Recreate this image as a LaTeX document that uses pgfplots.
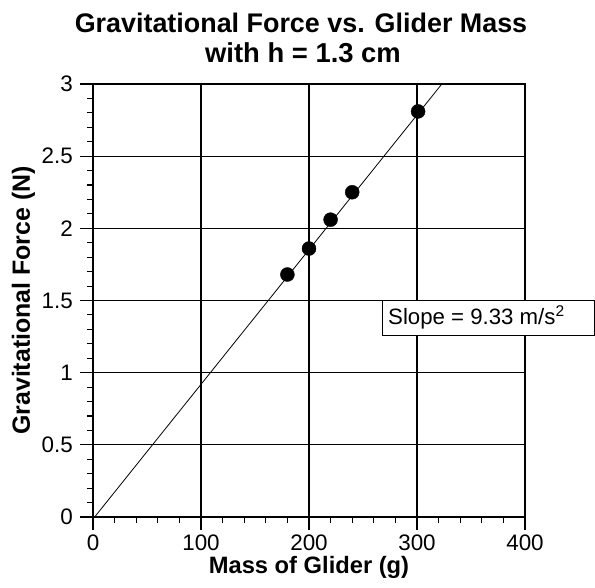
\documentclass[border=0pt]{standalone}
\usepackage{pgfplots}
\pgfplotsset{compat=1.18}
\usepackage{fontspec}
\setmainfont{Liberation Sans}
\begin{document}
\begin{tikzpicture}
\begin{axis}[
  scale only axis,
  width=432bp, height=433bp,
  xmin=0, xmax=400, ymin=0, ymax=3,
  xtick={0,100,200,300,400},
  ytick={0,0.5,1,1.5,2,2.5,3},
  yticklabels={0,0.5,1,1.5,2,2.5,3},
  minor x tick num=4, minor y tick num=4,
  xtick pos=left, ytick pos=left,
  tick align=outside,
  major tick length=13bp, minor tick length=6bp,
  grid=major,
  major grid style={black, line width=1.1bp},
  axis line style={black, line width=1.1bp},
  every tick/.style={black, line width=1.1bp},
  /pgf/number format/assume math mode=true,
  tick label style={font=\fontsize{22.5}{26}\selectfont},
  xticklabel style={inner sep=2bp, yshift=-3bp},
  yticklabel style={inner sep=3bp, xshift=-4bp},
  xlabel={\fontsize{23.8}{28}\selectfont\bfseries Mass of Glider (g)},
  ylabel={\fontsize{25}{28}\selectfont\bfseries Gravitational Force (N)},
  clip=false,
]
\addplot[black, line width=0.8bp] coordinates {(1.5,0) (323,3)};
\addplot[only marks, mark=*, mark size=7bp, mark options={fill=black, draw=black}] coordinates {
  (180,1.68) (200,1.86) (220,2.06) (240,2.25) (301,2.81)
};
\end{axis}
\node[anchor=base, font=\fontsize{27}{32}\selectfont\bfseries] at (208bp,484bp) {Gravitational Force vs. Glider Mass};
\node[anchor=base, font=\fontsize{27.5}{32}\selectfont\bfseries] at (210bp,454bp) {with h = 1.3 cm};
\draw[fill=white, line width=0.9bp] (289bp,217bp) rectangle (501bp,182bp);
\node[anchor=west, inner sep=0pt, font=\fontsize{22.3}{26}\selectfont] at (295bp,199.5bp) {Slope = 9.33 m/s\textsuperscript{2}};
\pgfresetboundingbox
\useasboundingbox (-93bp,-71bp) rectangle (502bp,517bp);
\end{tikzpicture}
\end{document}
